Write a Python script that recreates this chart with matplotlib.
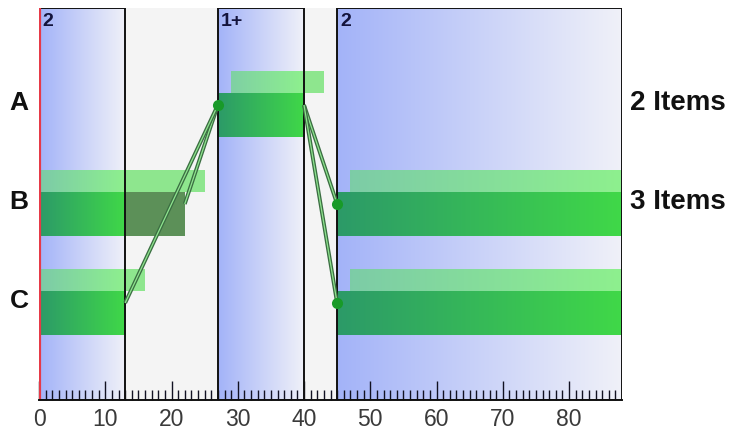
import numpy as np
import matplotlib
matplotlib.use("Agg")
import matplotlib.pyplot as plt
from matplotlib.colors import LinearSegmentedColormap, to_rgb

# ---------------- data ----------------
categories = ["A", "B", "C"]
item_labels = {"A": "2 Items", "B": "3 Items"}

band_starts = [0, 27, 45]
band_ends = [13, 40, 88]
band_labels = ["2", "1+", "2"]

main_rows = ["A", "B", "C", "B", "C"]
main_starts = [27, 0, 0, 45, 45]
main_ends = [40, 22, 13, 88, 88]

light_rows = ["A", "B", "C", "B", "C"]
light_starts = [29, 0, 0, 47, 47]
light_ends = [43, 25, 16, 88, 88]

link_from_rows = ["A", "A", "A", "A"]
link_from_x = [27, 27, 40, 40]
link_to_rows = ["B", "C", "B", "C"]
link_to_x = [22, 13, 45, 45]

dot_rows = ["A", "B", "C"]
dot_x = [27, 45, 45]

x_max = 88
major_ticks = list(range(0, 81, 10))

# ---------------- style ----------------
W, H, DPI = 733, 430, 100
fig = plt.figure(figsize=(W / DPI, H / DPI), dpi=DPI)
ax = fig.add_axes([39 / W, 1 - 400 / H, (622 - 39) / W, (400 - 8) / H])
ax.set_facecolor("#f4f4f4")

row_y = {c: i + 1 for i, c in enumerate(categories)}

band_L, band_R = "#a3b3f8", "#f0f1f9"
main_L, main_R = "#2c9a68", "#40d848"
light_L, light_R = "#7ccaa8", "#8ef08e"
main_out = "#5c9058"
light_out = "#8ee68e"


def mix(c0, c1, t):
    a, b = np.array(to_rgb(c0)), np.array(to_rgb(c1))
    return tuple(a + (b - a) * t)


def hgrad(x0, x1, y0, y1, c0, c1, z):
    cmap = LinearSegmentedColormap.from_list("g", [c0, c1])
    grad = np.linspace(0, 1, 256).reshape(1, -1)
    ax.imshow(grad, cmap=cmap, extent=(x0, x1, y1, y0), aspect="auto",
              zorder=z, interpolation="bilinear")


def segments(s, e):
    """split [s,e] into parts inside bands (with band index) and outside"""
    out = []
    pts = sorted(set([s, e] + [b for b in band_starts + band_ends if s < b < e]))
    for a, b in zip(pts[:-1], pts[1:]):
        mid = (a + b) / 2
        bi = None
        for i, (bs, be) in enumerate(zip(band_starts, band_ends)):
            if bs <= mid <= be:
                bi = i
        out.append((a, b, bi))
    return out


# bands
for bs, be, lab in zip(band_starts, band_ends, band_labels):
    hgrad(bs, be, 0.02, 3.98, band_L, band_R, 1)
    ax.add_patch(plt.Rectangle((bs, 0.02), be - bs, 3.96, fill=False,
                               ec="#111111", lw=1.4, zorder=6))
    ax.text(bs + 0.45, 0.07, lab, ha="left", va="top", fontsize=14,
            fontweight="bold", color="#14143c", family="Liberation Sans", zorder=7)


def draw_bars(rows, starts, ends, y_off0, y_off1, L, R, outc, z):
    for r, s, e in zip(rows, starts, ends):
        y = row_y[r]
        for a, b, bi in segments(s, e):
            if bi is None:
                ax.add_patch(plt.Rectangle((a, y + y_off0), b - a, y_off1 - y_off0,
                                           color=outc, lw=0, zorder=z))
            else:
                bs, be = band_starts[bi], band_ends[bi]
                t0, t1 = (a - bs) / (be - bs), (b - bs) / (be - bs)
                hgrad(a, b, y + y_off0, y + y_off1, mix(L, R, t0), mix(L, R, t1), z)


draw_bars(light_rows, light_starts, light_ends, -0.34, -0.12, light_L, light_R, light_out, 2)
draw_bars(main_rows, main_starts, main_ends, -0.12, 0.32, main_L, main_R, main_out, 3)

# links
for fr, fx, tr, tx in zip(link_from_rows, link_from_x, link_to_rows, link_to_x):
    ax.plot([fx, tx], [row_y[fr], row_y[tr]], color="#3b6e42", lw=2.8,
            solid_capstyle="butt", zorder=8)
    ax.plot([fx, tx], [row_y[fr], row_y[tr]], color="#8fe48f", lw=0.9,
            solid_capstyle="butt", zorder=8)

# dots
ax.plot(dot_x, [row_y[r] for r in dot_rows], "o", color="#189a28",
        markersize=8, markeredgewidth=0, zorder=9)

# red baseline at 0
ax.axvline(0, color="#e63a48", lw=3, zorder=7)

# axes
ax.set_xlim(0, x_max)
ax.set_ylim(3.98, 0.02)
for s in ["top", "right", "left"]:
    ax.spines[s].set_visible(False)
ax.spines["bottom"].set_color("#111111")
ax.spines["bottom"].set_linewidth(1.4)
ax.spines["bottom"].set_zorder(10)
ax.set_yticks([])
ax.set_xticks(major_ticks)
ax.set_xticks(np.arange(0, x_max, 1), minor=True)
ax.tick_params(axis="x", which="major", direction="in", length=14, width=1,
               color="#111122", labelsize=16.5, labelcolor="#3a3a3a", pad=6)
ax.tick_params(axis="x", which="minor", direction="in", length=7, width=1,
               color="#111122")
for lbl in ax.get_xticklabels():
    lbl.set_family("Liberation Sans")
    lbl.set_fontstretch("condensed")

# row labels
for c in categories:
    ax.text(-3.0, row_y[c] - 0.02, c, ha="center", va="center", fontsize=19,
            fontweight="bold", color="#111111", family="Liberation Sans",
            clip_on=False)
for c, t in item_labels.items():
    ax.text(89.2, row_y[c] - 0.02, t, ha="left", va="center", fontsize=20,
            fontweight="bold", color="#111111", family="Liberation Sans",
            clip_on=False)

fig.savefig("out.png", dpi=DPI)
